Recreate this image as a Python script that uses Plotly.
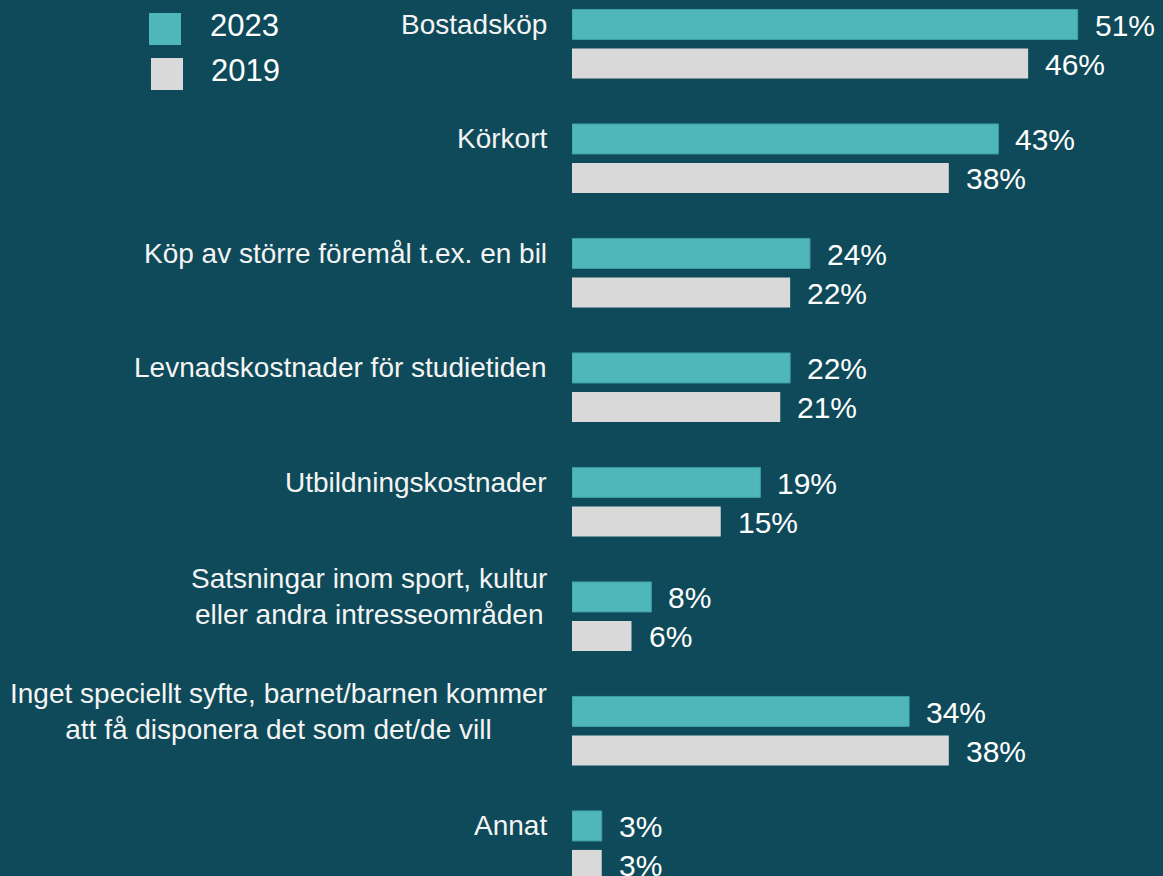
import plotly.graph_objects as go
import numpy as np

# ---- data ----
categories = [
    "Bostadsköp",
    "Körkort",
    "Köp av större föremål t.ex. en bil",
    "Levnadskostnader för studietiden",
    "Utbildningskostnader",
    "Satsningar inom sport, kultur<br>eller andra intresseområden",
    "Inget speciellt syfte, barnet/barnen kommer<br>att få disponera det som det/de vill",
    "Annat",
]
values_2023 = [51, 43, 24, 22, 19, 8, 34, 3]
values_2019 = [46, 38, 22, 21, 15, 6, 38, 3]
series_names = ["2023", "2019"]

# ---- styles ----
W, H = 1163, 876
BG = "#0E4A59"
TEAL = "#4FB6B9"
TEAL_EDGE = "#3E9FA3"
GRAY = "#D9D9D9"
FONT = "Arial, Liberation Sans, sans-serif"
BARGAP = 0.319
BARGROUPGAP = 0.23
X_MAX = 59.6
Y_TOP = -0.384
Y_BOTTOM = 7.267

pos = np.arange(len(categories))

fig = go.Figure()
fig.add_trace(go.Bar(
    x=values_2023, y=pos, orientation="h", name=series_names[0],
    marker=dict(color=TEAL, line=dict(color=TEAL_EDGE, width=1)),
    hoverinfo="x+name",
))
fig.add_trace(go.Bar(
    x=values_2019, y=pos, orientation="h", name=series_names[1],
    marker=dict(color=GRAY, line=dict(width=0)),
    hoverinfo="x+name",
))

annotations = []
sub = (1 - BARGAP) / 2
for k, vals in enumerate([values_2023, values_2019]):
    off = (k - 0.5) * sub
    for i, v in enumerate(vals):
        annotations.append(dict(
            x=v, y=pos[i] + off, xref="x", yref="y",
            text=f"{v}%", showarrow=False, xanchor="left", yanchor="middle",
            xshift=15, yshift=-1,
            font=dict(family=FONT, size=30, color="#FFFFFF"),
        ))

for i, c in enumerate(categories):
    annotations.append(dict(
        x=0, y=pos[i] - 0.5 * sub, xref="x", yref="y",
        text=c, showarrow=False, xanchor="right", yanchor="middle",
        align="center", xshift=-23,
        font=dict(family=FONT, size=28, color="#F4F4F4"),
    ))

# legend (custom, large squares)
legend_items = [(series_names[0], TEAL, 149, 13, 208), (series_names[1], GRAY, 151, 58, 209)]
shapes = []
for name, col, lx, ly, tx in legend_items:
    shapes.append(dict(
        type="rect", xref="paper", yref="paper",
        x0=lx / W, x1=(lx + 32) / W, y0=1 - (ly + 32) / H, y1=1 - ly / H,
        fillcolor=col, line=dict(width=0),
    ))
    annotations.append(dict(
        x=tx / W, y=1 - (ly + 13) / H, xref="paper", yref="paper",
        text=name, showarrow=False, xanchor="left", yanchor="middle",
        font=dict(family=FONT, size=31, color="#FFFFFF"),
    ))

fig.update_layout(
    width=W, height=H,
    paper_bgcolor=BG, plot_bgcolor=BG,
    margin=dict(l=0, r=0, t=0, b=0),
    barmode="group", bargap=BARGAP, bargroupgap=BARGROUPGAP,
    showlegend=False,
    xaxis=dict(domain=[572 / W, 1], range=[0, X_MAX], showgrid=False,
               zeroline=False, showticklabels=False, showline=False),
    yaxis=dict(range=[Y_BOTTOM, Y_TOP], showgrid=False, zeroline=False,
               showticklabels=False, showline=False),
    annotations=annotations,
    shapes=shapes,
)

fig.write_html(
    "out.html",
    config={"displayModeBar": False},
    post_script="document.body.style.margin='0';document.body.style.overflow='hidden';",
)
